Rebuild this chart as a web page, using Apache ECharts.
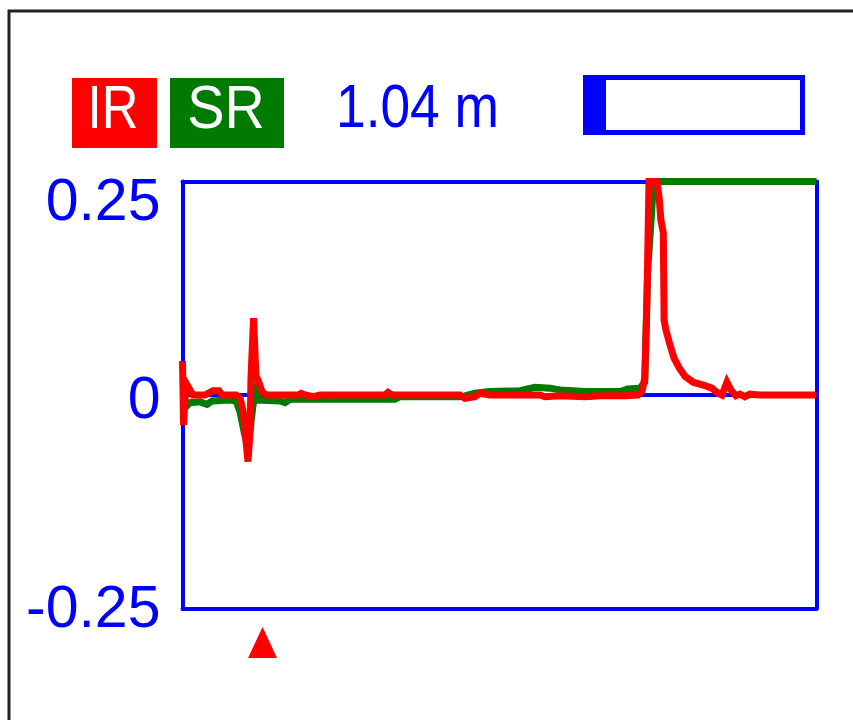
<!DOCTYPE html>
<html>
<head>
<meta charset="utf-8">
<style>
html,body{margin:0;padding:0;background:#fff;}
#chart{width:853px;height:720px;}
</style>
<script src="https://cdn.jsdelivr.net/npm/echarts@6/dist/echarts.min.js"></script>
</head>
<body>
<div id="chart"></div>
<script>
// ---- data (x = sample position along trace, y = reflection value) ----
const irX = [0.0, 0.4, 1.3, 2.8, 4.0, 8.5, 11.5, 13.8, 15.0, 20.3, 21.8, 22.9, 24.0, 24.8, 25.6, 25.9, 26.9, 27.8, 29.0, 30.1, 31.6,
  43.7, 44.9, 46.4, 49.4, 52.1, 76.7, 77.8, 79.3, 105.0, 106.9, 110.7, 112.6, 116.4, 135.3, 137.2, 142.9, 152.4, 158.0, 167.5,
  172.4, 173.9, 175.0, 175.8, 176.6, 179.6, 180.4, 181.1, 182.0, 182.3, 183.0, 184.5, 186.1, 188.0, 190.2, 193.3, 197.8, 200.4,
  202.7, 204.2, 206.1, 207.6, 209.5, 211.0, 212.9, 214.8, 218.6, 240.0];
const irY = [0.040, -0.035, 0.014, 0.006, 0.0, 0.0, 0.005, 0.005, 0.0, 0.0, -0.004, -0.018, -0.053, -0.078, -0.041, 0.018, 0.090, 0.023, 0.014, 0.004, 0.0,
  0.0, 0.002, 0.0, -0.002, 0.0, 0.0, 0.003, 0.0, 0.0, -0.004, -0.002, 0.002, 0.0, 0.0, -0.002, -0.001, -0.002, -0.001, -0.001,
  0.0, 0.004, 0.020, 0.110, 0.250, 0.250, 0.232, 0.205, 0.190, 0.088, 0.076, 0.059, 0.043, 0.032, 0.022, 0.015, 0.011, 0.008,
  0.002, 0.0, 0.015, 0.006, -0.001, 0.001, -0.002, 0.001, 0.0, 0.0];

const srX = [0.0, 1.3, 2.8, 6.6, 9.3, 11.2, 18.0, 20.3, 21.8, 23.3, 24.4, 25.6, 26.7, 27.8, 29.0, 36.9, 38.8, 40.7, 55.8, 80.4, 82.3,
  105.0, 106.9, 110.7, 116.4, 127.8, 133.4, 139.1, 142.9, 152.4, 165.6, 168.6, 173.2, 175.0, 176.1, 177.3, 178.1, 179.2, 240.0];
const srY = [-0.016, -0.014, -0.009, -0.008, -0.011, -0.007, -0.006, -0.007, -0.020, -0.043, -0.057, -0.041, -0.012, 0.004, -0.006, -0.007, -0.009, -0.005, -0.005, -0.005, -0.002,
  -0.002, -0.001, 0.002, 0.004, 0.005, 0.009, 0.008, 0.006, 0.004, 0.004, 0.007, 0.008, 0.015, 0.146, 0.200, 0.240, 0.250, 0.250];

const yTickLabels = ['-0.25', '0', '0.25'];
const markerX = [30.3];
const readout = '1.04 m';
const seriesNames = ['IR', 'SR'];

// ---- chart ----
const BLUE = '#0000ff', RED = '#ff0000', GREEN = '#007a00';
const FONT = "'Liberation Sans', Arial, sans-serif";

const zip = (xs, ys) => xs.map((x, i) => [x, ys[i]]);
const labelPad = { '0.25': 44, '0': 14, '-0.25': 4 };
const BW = 4;

const chart = echarts.init(document.getElementById('chart'), null, { renderer: 'canvas' });
chart.setOption({
  animation: false,
  backgroundColor: '#ffffff',
  grid: {
    left: 182.5, top: 181.5, width: 634, height: 427,
    show: false
  },
  xAxis: [
    { type: 'value', min: 0, max: 240, position: 'bottom',
      axisLine: { show: true, onZero: false, lineStyle: { color: BLUE, width: BW } },
      axisTick: { show: false }, axisLabel: { show: false }, splitLine: { show: false } },
    { type: 'value', min: 0, max: 240, position: 'top',
      axisLine: { show: true, onZero: false, lineStyle: { color: BLUE, width: BW } },
      axisTick: { show: false }, axisLabel: { show: false }, splitLine: { show: false } }
  ],
  yAxis: [
    {
      type: 'value', min: -0.25, max: 0.25, interval: 0.25, position: 'left',
      axisLine: { show: true, onZero: false, lineStyle: { color: BLUE, width: BW } }, axisTick: { show: false },
      splitLine: { show: true, lineStyle: { color: BLUE, width: 4 } },
      axisLabel: {
        margin: 22, color: BLUE, fontSize: 59, fontFamily: FONT,
        formatter: function (v) {
          const idx = Math.round((v + 0.25) / 0.25);
          return '{s' + idx + '|' + yTickLabels[idx] + '}';
        },
        rich: {
          s0: { color: BLUE, fontSize: 59, fontFamily: FONT, padding: [labelPad['-0.25'], 0, 0, 0] },
          s1: { color: BLUE, fontSize: 59, fontFamily: FONT, padding: [labelPad['0'], 0, 0, 0] },
          s2: { color: BLUE, fontSize: 59, fontFamily: FONT, padding: [labelPad['0.25'], 0, 0, 0] }
        }
      }
    },
    {
      type: 'value', min: -0.25, max: 0.25, interval: 0.25, position: 'right',
      axisLine: { show: true, onZero: false, lineStyle: { color: BLUE, width: BW } }, axisTick: { show: false },
      axisLabel: { show: false }, splitLine: { show: false }
    }
  ],
  series: [
    {
      name: seriesNames[1], type: 'line', data: zip(srX, srY),
      showSymbol: false, symbol: 'none',
      lineStyle: { color: GREEN, width: 7, join: 'miter' }, z: 3
    },
    {
      name: seriesNames[0], type: 'line', data: zip(irX, irY),
      showSymbol: false, symbol: 'none',
      lineStyle: { color: RED, width: 7, join: 'miter' }, z: 4,
      markPoint: {
        silent: true,
        symbol: 'triangle', symbolSize: [29, 31], symbolOffset: [0, 34],
        itemStyle: { color: RED },
        label: { show: false },
        data: markerX.map(x => ({ coord: [x, -0.25] }))
      }
    }
  ],
  graphic: [
    { type: 'rect', shape: { x: 9, y: 11, width: 900, height: 800 }, style: { fill: 'none', stroke: '#222', lineWidth: 3 }, silent: true },
    { type: 'rect', shape: { x: 72, y: 78, width: 85, height: 70 }, style: { fill: RED } },
    { type: 'text', x: 113, y: 111, scaleX: 0.82, style: { text: seriesNames[0], fill: '#fff', font: '62px ' + FONT, align: 'center', verticalAlign: 'middle' } },
    { type: 'rect', shape: { x: 170, y: 78, width: 114, height: 70 }, style: { fill: GREEN } },
    { type: 'text', x: 226, y: 111, scaleX: 0.9, style: { text: seriesNames[1], fill: '#fff', font: '62px ' + FONT, align: 'center', verticalAlign: 'middle' } },
    { type: 'text', x: 336, y: 110, scaleX: 0.86, style: { text: readout, fill: BLUE, font: '62px ' + FONT, align: 'left', verticalAlign: 'middle' } },
    { type: 'rect', shape: { x: 585.5, y: 77.5, width: 217, height: 55 }, style: { fill: '#fff', stroke: BLUE, lineWidth: 5 } },
    { type: 'rect', shape: { x: 583, y: 75, width: 23, height: 60 }, style: { fill: BLUE } }
  ]
});
</script>
</body>
</html>
